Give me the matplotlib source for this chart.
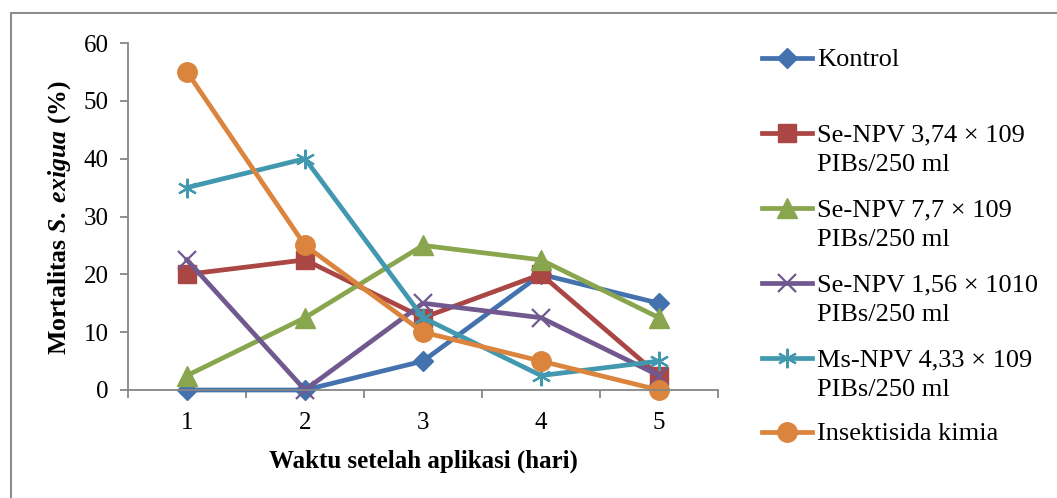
import matplotlib
matplotlib.use("Agg")
import matplotlib.pyplot as plt
from matplotlib.lines import Line2D
from matplotlib.patches import Rectangle

# data
days = [1, 2, 3, 4, 5]
kontrol = [0, 0, 5, 20, 15]
se_374 = [20, 22.5, 12.5, 20, 2.5]
se_77 = [2.5, 12.5, 25, 22.5, 12.5]
se_156 = [22.5, 0, 15, 12.5, 2.5]
ms_433 = [35, 40, 12.5, 2.5, 5]
kimia = [55, 25, 10, 5, 0]

labels = [
    "Kontrol",
    "Se-NPV 3,74 \u00d7 109\nPIBs/250 ml",
    "Se-NPV 7,7 \u00d7 109\nPIBs/250 ml",
    "Se-NPV 1,56 \u00d7 1010\nPIBs/250 ml",
    "Ms-NPV 4,33 \u00d7 109\nPIBs/250 ml",
    "Insektisida kimia",
]
series = [kontrol, se_374, se_77, se_156, ms_433, kimia]
colors = ["#4472AE", "#AA4643", "#89A54E", "#71588F", "#4198AF", "#DB843D"]
markers = ["D", "s", "^", "x", "*", "o"]
msizes = [10.5, 13, 14, 13, 14, 14]

plt.rcParams["font.family"] = ["Liberation Serif", "DejaVu Serif"]
plt.rcParams["mathtext.fontset"] = "custom"
plt.rcParams["mathtext.rm"] = "Liberation Serif"
plt.rcParams["mathtext.bf"] = "Liberation Serif:bold"
plt.rcParams["mathtext.bfit"] = "Liberation Serif:bold:italic"

W, H = 1057, 498
fig = plt.figure(figsize=(W / 100, H / 100), dpi=100)
ax = fig.add_axes([128 / W, 1 - 390 / H, (718 - 128) / W, (390 - 43) / H])

for vals, c, m, ms in zip(series, colors, markers, msizes):
    mk = (6, 2, 0) if m == "*" else m
    ax.plot(days, vals, color=c, lw=3.4, marker=mk, ms=ms, mec=c,
            mew=1.6 if m in "x*" else 1, clip_on=False)

ax.set_xlim(0.5, 5.5)
ax.set_ylim(0, 60)
ax.set_yticks(range(0, 61, 10))
ax.set_xticks([0.5, 1.5, 2.5, 3.5, 4.5, 5.5])
ax.set_xticklabels([])
ax.set_xticks(days, minor=True)
ax.set_xticklabels([str(d) for d in days], minor=True)
ax.tick_params(axis="x", which="major", length=6, width=1.3, color="#868686", direction="out")
ax.tick_params(axis="x", which="minor", length=0, pad=16, labelsize=18)
ax.tick_params(axis="y", length=6, width=1.3, color="#868686", pad=8, labelsize=18)
for s in ["top", "right"]:
    ax.spines[s].set_visible(False)
for s in ["left", "bottom"]:
    ax.spines[s].set_color("#868686")
    ax.spines[s].set_linewidth(1.3)

ax.set_xlabel("Waktu setelah aplikasi (hari)", fontsize=18, fontweight="bold", labelpad=11)
fig.text(60 / W, 1 - 218 / H,
         r"$\mathbf{Mortalitas}\;\mathbfit{S.}\,\mathbfit{exigua}\;\mathbf{(\%)}$",
         rotation=90, ha="center", va="center", fontsize=18.5)

# manual legend, handle aligned with first text line
legend_y = [58, 133, 208, 283, 358, 432]
for lab, c, m, ms, yy in zip(labels, colors, markers, msizes, legend_y):
    yf = 1 - yy / H
    fig.add_artist(Line2D([762 / W, 812 / W], [yf, yf], color=c, lw=3.4,
                          transform=fig.transFigure))
    mk = (6, 2, 0) if m == "*" else m
    fig.add_artist(Line2D([787 / W], [yf], color=c, marker=mk, ms=ms, mec=c,
                          mew=1.6 if m in "x*" else 1, transform=fig.transFigure))
    fig.text(817 / W, 1 - (yy - 9) / H, lab, ha="left", va="top", fontsize=19,
             linespacing=1.45)

fig.add_artist(Rectangle((10.5 / W, -0.05), 1.2, 1 - 13.5 / H + 0.05, fill=False,
                         edgecolor="#8c8c8c", lw=1.5, transform=fig.transFigure))

fig.savefig("out.png", dpi=100)
